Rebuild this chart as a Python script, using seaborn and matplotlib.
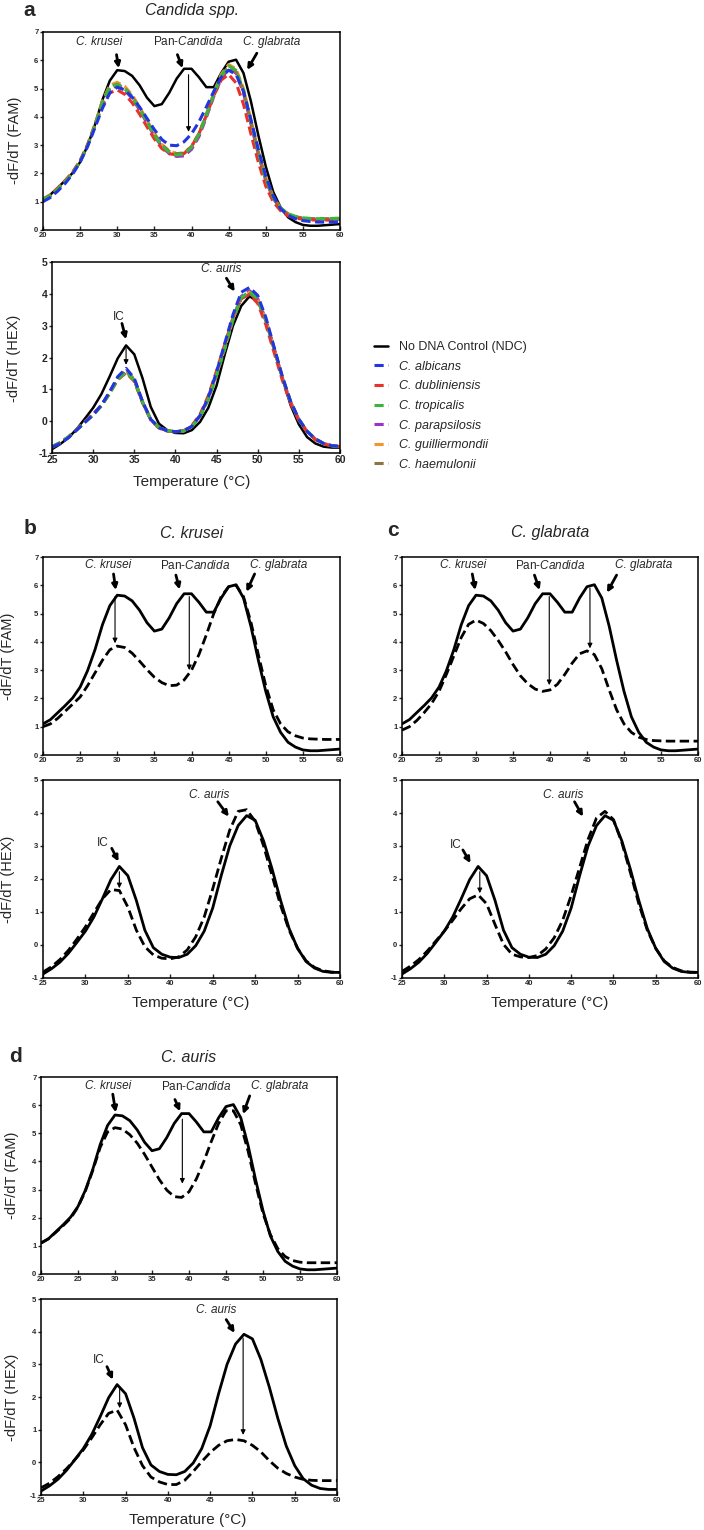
import seaborn as sns
import matplotlib.pyplot as plt

sns.set_style("ticks")
plt.rcParams["font.family"] = ["Liberation Sans", "DejaVu Sans"]
plt.rcParams["axes.unicode_minus"] = False
plt.rcParams["mathtext.fontset"] = "custom"
plt.rcParams["mathtext.rm"] = "Liberation Sans"
plt.rcParams["mathtext.it"] = "Liberation Sans:italic"

W, H = 704, 1530

# temperature grids (°C)
temp_fam = list(range(20, 61))
temp_hex = list(range(25, 61))

# No DNA control, shared by every panel
ndc_fam = [1.10, 1.25, 1.50, 1.75, 2.02, 2.40, 2.98, 3.72, 4.60, 5.28, 5.65, 5.62, 5.45, 5.12,
           4.68, 4.38, 4.45, 4.85, 5.35, 5.70, 5.70, 5.40, 5.05, 5.05, 5.55, 5.95, 6.02, 5.55,
           4.55, 3.35, 2.25, 1.35, 0.80, 0.45, 0.28, 0.18, 0.15, 0.15, 0.17, 0.19, 0.21]
ndc_hex = [-0.88, -0.72, -0.52, -0.25, 0.08, 0.42, 0.85, 1.40, 1.98, 2.38, 2.10, 1.35, 0.45,
           -0.08, -0.28, -0.37, -0.38, -0.28, -0.02, 0.42, 1.12, 2.10, 3.00, 3.62, 3.92, 3.78,
           3.15, 2.30, 1.35, 0.50, -0.10, -0.50, -0.70, -0.80, -0.83, -0.83]

# panel a: Candida spp.
species = ["C. albicans", "C. dubliniensis", "C. tropicalis", "C. parapsilosis",
           "C. guilliermondii", "C. haemulonii"]
species_colors = ["#2236e0", "#e8312a", "#3bb53b", "#9a33cc", "#f2952c", "#8c7443"]

albicans_fam = [1.00, 1.15, 1.38, 1.65, 1.98, 2.40, 2.95, 3.62, 4.30, 4.85, 5.05, 4.95, 4.70, 4.35,
                3.95, 3.55, 3.20, 3.00, 2.98, 3.12, 3.40, 3.82, 4.35, 4.90, 5.40, 5.65, 5.50, 4.90,
                3.90, 2.85, 1.90, 1.20, 0.75, 0.52, 0.40, 0.33, 0.30, 0.28, 0.28, 0.28, 0.28]
dubliniensis_fam = [1.05, 1.22, 1.48, 1.75, 2.05, 2.45, 3.00, 3.68, 4.40, 4.85, 4.95, 4.80, 4.50, 4.10,
                    3.65, 3.22, 2.88, 2.70, 2.65, 2.70, 2.95, 3.40, 4.05, 4.75, 5.30, 5.50, 5.20, 4.45,
                    3.40, 2.40, 1.55, 1.00, 0.68, 0.50, 0.42, 0.38, 0.36, 0.35, 0.35, 0.36, 0.36]
tropicalis_fam = [1.08, 1.22, 1.45, 1.72, 2.02, 2.42, 2.98, 3.70, 4.50, 5.05, 5.15, 5.00, 4.70, 4.28,
                  3.82, 3.35, 2.98, 2.75, 2.65, 2.68, 2.92, 3.38, 4.05, 4.80, 5.45, 5.80, 5.65, 4.95,
                  3.85, 2.75, 1.80, 1.15, 0.78, 0.58, 0.48, 0.43, 0.41, 0.40, 0.40, 0.41, 0.42]
parapsilosis_fam = [1.05, 1.20, 1.45, 1.72, 2.02, 2.42, 2.98, 3.68, 4.45, 5.00, 5.10, 4.95, 4.65, 4.25,
                    3.78, 3.32, 2.95, 2.70, 2.60, 2.62, 2.85, 3.30, 3.98, 4.72, 5.35, 5.70, 5.55, 4.85,
                    3.75, 2.68, 1.75, 1.12, 0.75, 0.56, 0.46, 0.41, 0.39, 0.38, 0.38, 0.38, 0.38]
guilliermondii_fam = [1.10, 1.25, 1.48, 1.75, 2.05, 2.45, 3.02, 3.75, 4.55, 5.12, 5.22, 5.08, 4.78, 4.35,
                      3.88, 3.42, 3.03, 2.80, 2.70, 2.72, 2.95, 3.42, 4.10, 4.85, 5.50, 5.85, 5.70, 5.00,
                      3.90, 2.80, 1.85, 1.18, 0.78, 0.56, 0.45, 0.40, 0.37, 0.36, 0.36, 0.37, 0.37]
haemulonii_fam = [1.08, 1.23, 1.47, 1.73, 2.03, 2.43, 3.00, 3.72, 4.50, 5.05, 5.15, 5.02, 4.72, 4.30,
                  3.84, 3.38, 3.00, 2.78, 2.70, 2.72, 2.95, 3.40, 4.05, 4.78, 5.42, 5.75, 5.60, 4.92,
                  3.82, 2.72, 1.78, 1.14, 0.77, 0.57, 0.47, 0.42, 0.40, 0.40, 0.40, 0.40, 0.40]

albicans_hex = [-0.82, -0.70, -0.52, -0.28, -0.04, 0.20, 0.50, 0.92, 1.40, 1.66, 1.35, 0.62, 0.06,
                -0.20, -0.30, -0.33, -0.31, -0.16, 0.18, 0.75, 1.55, 2.45, 3.35, 4.05, 4.20, 3.95,
                3.25, 2.32, 1.40, 0.62, 0.06, -0.32, -0.56, -0.70, -0.77, -0.79]
dubliniensis_hex = [-0.80, -0.68, -0.50, -0.26, -0.02, 0.22, 0.50, 0.88, 1.30, 1.52, 1.25, 0.58, 0.04,
                    -0.22, -0.31, -0.33, -0.30, -0.14, 0.22, 0.80, 1.58, 2.42, 3.25, 3.85, 3.98, 3.70,
                    3.02, 2.15, 1.28, 0.55, 0.02, -0.34, -0.58, -0.72, -0.78, -0.80]
tropicalis_hex = [-0.80, -0.67, -0.49, -0.27, -0.03, 0.20, 0.48, 0.86, 1.32, 1.55, 1.28, 0.60, 0.05,
                  -0.20, -0.30, -0.33, -0.31, -0.17, 0.15, 0.70, 1.45, 2.30, 3.20, 3.88, 4.08, 3.84,
                  3.18, 2.28, 1.38, 0.62, 0.06, -0.31, -0.55, -0.70, -0.77, -0.80]
parapsilosis_hex = [-0.82, -0.68, -0.50, -0.26, -0.02, 0.22, 0.50, 0.90, 1.36, 1.60, 1.30, 0.60, 0.05,
                    -0.21, -0.30, -0.33, -0.31, -0.16, 0.17, 0.72, 1.48, 2.34, 3.24, 3.92, 4.10, 3.85,
                    3.18, 2.27, 1.36, 0.60, 0.05, -0.32, -0.56, -0.70, -0.77, -0.80]
guilliermondii_hex = [-0.81, -0.68, -0.50, -0.27, -0.03, 0.21, 0.49, 0.89, 1.37, 1.62, 1.31, 0.61, 0.05,
                      -0.20, -0.30, -0.33, -0.31, -0.17, 0.16, 0.71, 1.46, 2.31, 3.21, 3.88, 4.05, 3.82,
                      3.16, 2.26, 1.36, 0.60, 0.05, -0.32, -0.56, -0.70, -0.77, -0.80]
haemulonii_hex = [-0.80, -0.68, -0.50, -0.27, -0.03, 0.20, 0.48, 0.88, 1.34, 1.58, 1.29, 0.60, 0.05,
                  -0.20, -0.30, -0.33, -0.31, -0.17, 0.15, 0.70, 1.44, 2.28, 3.18, 3.85, 4.02, 3.80,
                  3.15, 2.25, 1.36, 0.60, 0.05, -0.32, -0.56, -0.70, -0.77, -0.80]

# panels b-d: single species sample (dashed)
krusei_fam = [1.00, 1.10, 1.30, 1.55, 1.80, 2.05, 2.45, 2.90, 3.35, 3.72, 3.85, 3.80, 3.60, 3.32,
              3.02, 2.75, 2.56, 2.45, 2.47, 2.65, 3.00, 3.55, 4.25, 5.00, 5.60, 5.95, 6.00, 5.60,
              4.70, 3.55, 2.45, 1.60, 1.10, 0.82, 0.68, 0.60, 0.57, 0.56, 0.55, 0.55, 0.55]
krusei_hex = [-0.82, -0.66, -0.44, -0.16, 0.18, 0.55, 0.98, 1.40, 1.68, 1.65, 1.15, 0.45, -0.05,
              -0.30, -0.40, -0.42, -0.36, -0.15, 0.25, 0.85, 1.70, 2.62, 3.48, 4.05, 4.10, 3.75,
              3.00, 2.10, 1.20, 0.45, -0.10, -0.48, -0.68, -0.78, -0.82, -0.83]
glabrata_fam = [0.88, 1.00, 1.22, 1.50, 1.82, 2.25, 2.85, 3.50, 4.15, 4.62, 4.77, 4.65, 4.40, 4.05,
                3.65, 3.20, 2.80, 2.52, 2.33, 2.25, 2.30, 2.50, 2.85, 3.25, 3.58, 3.68, 3.55, 3.05,
                2.30, 1.60, 1.10, 0.80, 0.63, 0.55, 0.51, 0.50, 0.49, 0.49, 0.49, 0.49, 0.49]
glabrata_hex = [-0.80, -0.64, -0.44, -0.18, 0.12, 0.42, 0.75, 1.10, 1.40, 1.52, 1.25, 0.62, 0.02,
                -0.28, -0.36, -0.38, -0.32, -0.12, 0.22, 0.75, 1.50, 2.35, 3.20, 3.85, 4.05, 3.80,
                3.10, 2.20, 1.25, 0.45, -0.10, -0.48, -0.68, -0.78, -0.82, -0.83]
auris_fam = [1.10, 1.25, 1.48, 1.72, 1.98, 2.38, 2.95, 3.68, 4.50, 5.05, 5.20, 5.15, 4.95, 4.65,
             4.25, 3.80, 3.35, 2.98, 2.75, 2.72, 2.92, 3.38, 4.00, 4.70, 5.35, 5.80, 5.80, 5.30,
             4.35, 3.20, 2.15, 1.40, 0.90, 0.62, 0.48, 0.42, 0.40, 0.40, 0.40, 0.40, 0.40]
auris_hex = [-0.78, -0.64, -0.44, -0.20, 0.08, 0.38, 0.75, 1.15, 1.50, 1.60, 1.15, 0.45, -0.10,
             -0.45, -0.60, -0.68, -0.68, -0.55, -0.28, 0.02, 0.30, 0.52, 0.66, 0.70, 0.66, 0.52,
             0.32, 0.05, -0.18, -0.34, -0.45, -0.52, -0.55, -0.56, -0.56, -0.56]

# peak labels: (text, font style)
fam_peak_labels = [("C. krusei", "italic"), ("Pan-$\\it{Candida}$", "normal"), ("C. glabrata", "italic")]
hex_peak_labels = [("IC", "normal"), ("C. auris", "italic")]

fig = plt.figure(figsize=(W / 100, H / 100), dpi=100)


def px_axes(l, t, r, b):
    return fig.add_axes([l / W, 1 - b / H, (r - l) / W, (b - t) / H])


def style_axes(ax, fam, fs):
    if fam:
        ax.set_xlim(20, 60)
        ax.set_ylim(0, 7)
        ax.set_xticks(range(20, 61, 5))
        ax.set_yticks(range(0, 8))
    else:
        ax.set_xlim(25, 60)
        ax.set_ylim(-1, 5)
        ax.set_xticks(range(25, 61, 5))
        ax.set_yticks(range(-1, 6))
    ax.tick_params(axis="x", direction="in", length=3, width=1, pad=1.5, labelsize=fs)
    ax.tick_params(axis="y", direction="out", length=2.5, width=1, pad=0.8, labelsize=fs)
    for lab in ax.get_xticklabels() + ax.get_yticklabels():
        lab.set_fontweight("bold")
    for s in ax.spines.values():
        s.set_visible(True)
        s.set_linewidth(1.1)
        s.set_color("black")
    ax.set_xlabel("")
    ax.set_ylabel("")


def curve(ax, x, y, color="black", dashed=False, lw=2.0, dash=(3.4, 1.6)):
    sns.lineplot(x=x, y=y, ax=ax, color=color, lw=lw,
                 linestyle=(0, dash) if dashed else "-", legend=False)
    return ax.lines[-1]


def annotate(ax, labels, text_pos, bold, thin, fs=8.5):
    for (lab, st), (tx, ty) in zip(labels, text_pos):
        ax.text(tx, ty, lab, ha="center", va="center", fontsize=fs, style=st)
    for tail, tip in bold:
        ax.annotate("", xy=tip, xytext=tail,
                    arrowprops=dict(arrowstyle="-|>", color="black", lw=2.0,
                                    mutation_scale=8, shrinkA=0, shrinkB=0))
    for tail, tip in thin:
        ax.annotate("", xy=tip, xytext=tail,
                    arrowprops=dict(arrowstyle="-|>", color="black", lw=0.8,
                                    mutation_scale=7, shrinkA=0, shrinkB=0))


def ylab(ax, text, x_px, y_px):
    ax.set_ylabel(text, fontsize=10.5, va="center", ha="center")
    ax.yaxis.set_label_coords(x_px / W, 1 - y_px / H, transform=fig.transFigure)


def xlab(ax, x_px, y_px):
    ax.set_xlabel("Temperature (°C)", fontsize=11, va="center", ha="center")
    ax.xaxis.set_label_coords(x_px / W, 1 - y_px / H, transform=fig.transFigure)


# ---------------- panel a ----------------
fams = [albicans_fam, dubliniensis_fam, tropicalis_fam, parapsilosis_fam, guilliermondii_fam, haemulonii_fam]
hexs = [albicans_hex, dubliniensis_hex, tropicalis_hex, parapsilosis_hex, guilliermondii_hex, haemulonii_hex]
draw_order = [3, 4, 5, 1, 2, 0]

aF = px_axes(43, 32, 340, 230)
curve(aF, temp_fam, ndc_fam, lw=1.8)
for i in draw_order:
    curve(aF, temp_fam, fams[i], species_colors[i], dashed=True, lw=2.2, dash=(3.0, 1.5))
style_axes(aF, True, 5.5)
annotate(aF, fam_peak_labels, [(27.6, 6.65), (39.5, 6.65), (50.8, 6.65)],
         [((29.9, 6.2), (30.2, 5.72)), ((38.1, 6.2), (38.8, 5.72)), ((48.8, 6.25), (47.5, 5.66))],
         [((39.6, 5.49), (39.6, 3.47))])
ylab(aF, "-dF/dT (FAM)", 15, 140)

aH = px_axes(52, 262, 340, 453)
handles = [None] * 7
handles[0] = curve(aH, temp_hex, ndc_hex, lw=1.8)
for i in draw_order:
    handles[i + 1] = curve(aH, temp_hex, hexs[i], species_colors[i], dashed=True, lw=2.2, dash=(3.0, 1.5))
style_axes(aH, False, 7.5)
annotate(aH, hex_peak_labels, [(33.1, 3.28), (45.6, 4.78)],
         [((33.5, 3.07), (34.0, 2.57)), ((46.2, 4.49), (47.2, 4.07))],
         [((34.0, 2.29), (34.0, 1.77))])
ylab(aH, "-dF/dT (HEX)", 14, 358)
xlab(aH, 192, 482)

leg = fig.legend(handles, ["No DNA Control (NDC)"] + species, loc="upper left",
                 bbox_to_anchor=(374 / W, 1 - 341 / H), frameon=False, fontsize=9,
                 handlelength=1.1, handletextpad=0.9, labelspacing=0.61,
                 borderpad=0, borderaxespad=0)
for t in leg.get_texts()[1:]:
    t.set_style("italic")

fig.text(29 / W, 1 - 10 / H, "a", fontsize=15, fontweight="bold", ha="center", va="center")
fig.text(192 / W, 1 - 10 / H, "Candida spp.", fontsize=11.5, style="italic", ha="center", va="center")

# ---------------- panels b, c, d ----------------
panels = [
    dict(letter="b", name="C. krusei", fam=krusei_fam, hex=krusei_hex,
         letter_xy=(30, 528), title_xy=(192, 533),
         fam_box=(43, 557, 340, 755), hex_box=(43, 780, 340, 978),
         ylab_x=8, xlab_xy=(191, 1003),
         fam_text=[(28.8, 6.71), (40.5, 6.71), (51.7, 6.71)],
         fam_bold=[((29.5, 6.4), (29.8, 5.83)), ((37.9, 6.36), (38.4, 5.85)), ((48.5, 6.4), (47.4, 5.77))],
         fam_thin=[((29.7, 5.6), (29.7, 3.95)), ((39.7, 5.6), (39.7, 3.0))],
         hex_text=[(32.1, 3.08), (44.6, 4.55)],
         hex_bold=[((33.1, 2.93), (33.9, 2.53)), ((45.6, 4.34), (46.9, 3.89))],
         hex_thin=[((34.0, 2.22), (34.0, 1.72))]),
    dict(letter="c", name="C. glabrata", fam=glabrata_fam, hex=glabrata_hex,
         letter_xy=(393, 530), title_xy=(550, 533),
         fam_box=(402, 557, 698, 755), hex_box=(402, 780, 698, 978),
         ylab_x=None, xlab_xy=(550, 1003),
         fam_text=[(28.3, 6.71), (40.0, 6.71), (52.6, 6.71)],
         fam_bold=[((29.5, 6.4), (29.9, 5.83)), ((37.9, 6.36), (38.6, 5.83)), ((49.0, 6.36), (47.7, 5.74))],
         fam_thin=[((39.9, 5.6), (39.9, 2.47)), ((45.4, 5.9), (45.4, 3.77))],
         hex_text=[(31.3, 3.03), (44.1, 4.55)],
         hex_bold=[((32.2, 2.88), (33.1, 2.48)), ((45.4, 4.34), (46.4, 3.89))],
         hex_thin=[((34.2, 2.22), (34.2, 1.57))]),
    dict(letter="d", name="C. auris", fam=auris_fam, hex=auris_hex,
         letter_xy=(16, 1057), title_xy=(189, 1057),
         fam_box=(41, 1077, 337, 1274), hex_box=(41, 1299, 337, 1495),
         ylab_x=12, xlab_xy=(188, 1520),
         fam_text=[(29.1, 6.68), (40.9, 6.68), (52.2, 6.68)],
         fam_bold=[((29.7, 6.39), (30.1, 5.74)), ((38.1, 6.2), (38.8, 5.78)), ((48.2, 6.33), (47.3, 5.68))],
         fam_thin=[((39.1, 5.5), (39.1, 3.21))],
         hex_text=[(31.8, 3.14), (45.7, 4.67)],
         hex_bold=[((32.8, 2.93), (33.5, 2.53)), ((46.9, 4.37), (47.9, 3.96))],
         hex_thin=[((34.3, 2.32), (34.3, 1.66)), ((48.9, 3.8), (48.9, 0.84))]),
]

for p in panels:
    axF = px_axes(*p["fam_box"])
    curve(axF, temp_fam, ndc_fam, lw=2.0)
    curve(axF, temp_fam, p["fam"], dashed=True, lw=2.0)
    style_axes(axF, True, 5.5)
    annotate(axF, fam_peak_labels, p["fam_text"], p["fam_bold"], p["fam_thin"])

    axH = px_axes(*p["hex_box"])
    curve(axH, temp_hex, ndc_hex, lw=2.0)
    curve(axH, temp_hex, p["hex"], dashed=True, lw=2.0)
    style_axes(axH, False, 5.5)
    annotate(axH, hex_peak_labels, p["hex_text"], p["hex_bold"], p["hex_thin"])
    xlab(axH, *p["xlab_xy"])

    if p["ylab_x"] is not None:
        l, t, r, b = p["fam_box"]
        ylab(axF, "-dF/dT (FAM)", p["ylab_x"], (t + b) / 2)
        l, t, r, b = p["hex_box"]
        ylab(axH, "-dF/dT (HEX)", p["ylab_x"], (t + b) / 2)

    lx, ly = p["letter_xy"]
    fig.text(lx / W, 1 - ly / H, p["letter"], fontsize=15, fontweight="bold", ha="center", va="center")
    tx, ty = p["title_xy"]
    fig.text(tx / W, 1 - ty / H, p["name"], fontsize=11.5, style="italic", ha="center", va="center")

fig.savefig("out.png", dpi=100)
